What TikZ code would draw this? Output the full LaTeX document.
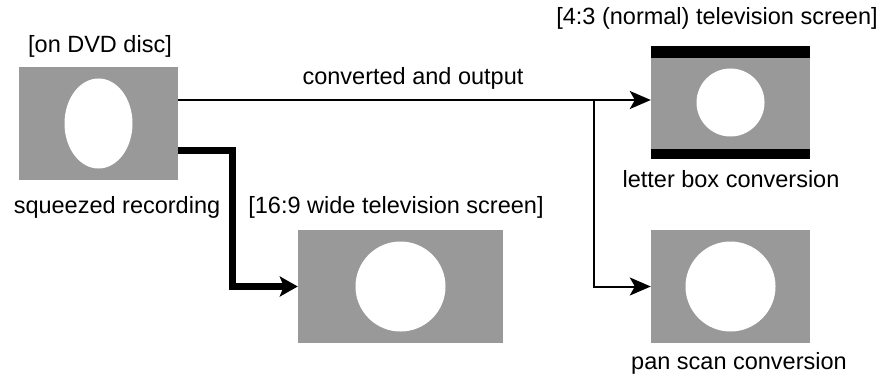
\documentclass[tikz,border=0pt]{standalone}
\usepackage{fontspec}
\setmainfont{Liberation Sans}
\usetikzlibrary{arrows.meta}
\definecolor{scr}{HTML}{999999}
\begin{document}
\begin{tikzpicture}[x=1pt,y=-1pt,
  screen/.style={rectangle,fill=scr,inner sep=0pt,minimum width=159pt,minimum height=113pt},
  wscreen/.style={rectangle,fill=scr,inner sep=0pt,minimum width=205pt,minimum height=113pt},
  lbl/.style={anchor=base,inner sep=0pt,font=\fontsize{23.5}{28}\selectfont},
  thinarrow/.style={line width=2pt,-{Stealth[length=21pt,width=18pt,inset=5pt]}},
  thickarrow/.style={line width=7pt,-{Stealth[length=18pt,width=20pt,inset=4pt]}}]
\useasboundingbox (0,0) rectangle (885,377);
% screens
\node[screen] (dvd) at (98.5,123.5) {};
\fill[white] (dvd.center) ellipse [x radius=34pt, y radius=45pt];
\node[screen] (lb) at (730.5,102.5) {};
\fill[black] (lb.north west) rectangle ([yshift=-12pt]lb.north east);
\fill[black] ([yshift=10pt]lb.south west) rectangle (lb.south east);
\fill[white] (lb.center) circle (34pt);
\node[wscreen] (wide) at (400.5,286.5) {};
\fill[white] (wide.center) circle (45pt);
\node[screen] (ps) at (730.5,286.5) {};
\fill[white] (ps.center) circle (45pt);
% labels
\node[lbl] (t1) at (100,53) {[on DVD disc]};
\node[lbl] (t2) at (413,85) {converted and output};
\node[lbl] (t3) at (717,25) {[4:3 (normal) television screen]};
\node[lbl] (t4) at (117,213) {squeezed recording};
\node[lbl] (t5) at (731,187) {letter box conversion};
\node[lbl] (t6) at (396,213) {[16:9 wide television screen]};
\node[lbl] (t7) at (739,369) {pan scan conversion};
% connectors
\coordinate (o1) at (178,100);
\coordinate (br) at (594,100);
\coordinate (o2) at (178,150);
\coordinate (bend) at (232.5,150);
\draw[thinarrow] (o1) -- (lb.west |- o1);
\draw[thinarrow] (br) |- (ps.west);
\draw[thickarrow] (o2) -- (bend) |- (wide.west);
\end{tikzpicture}
\end{document}
